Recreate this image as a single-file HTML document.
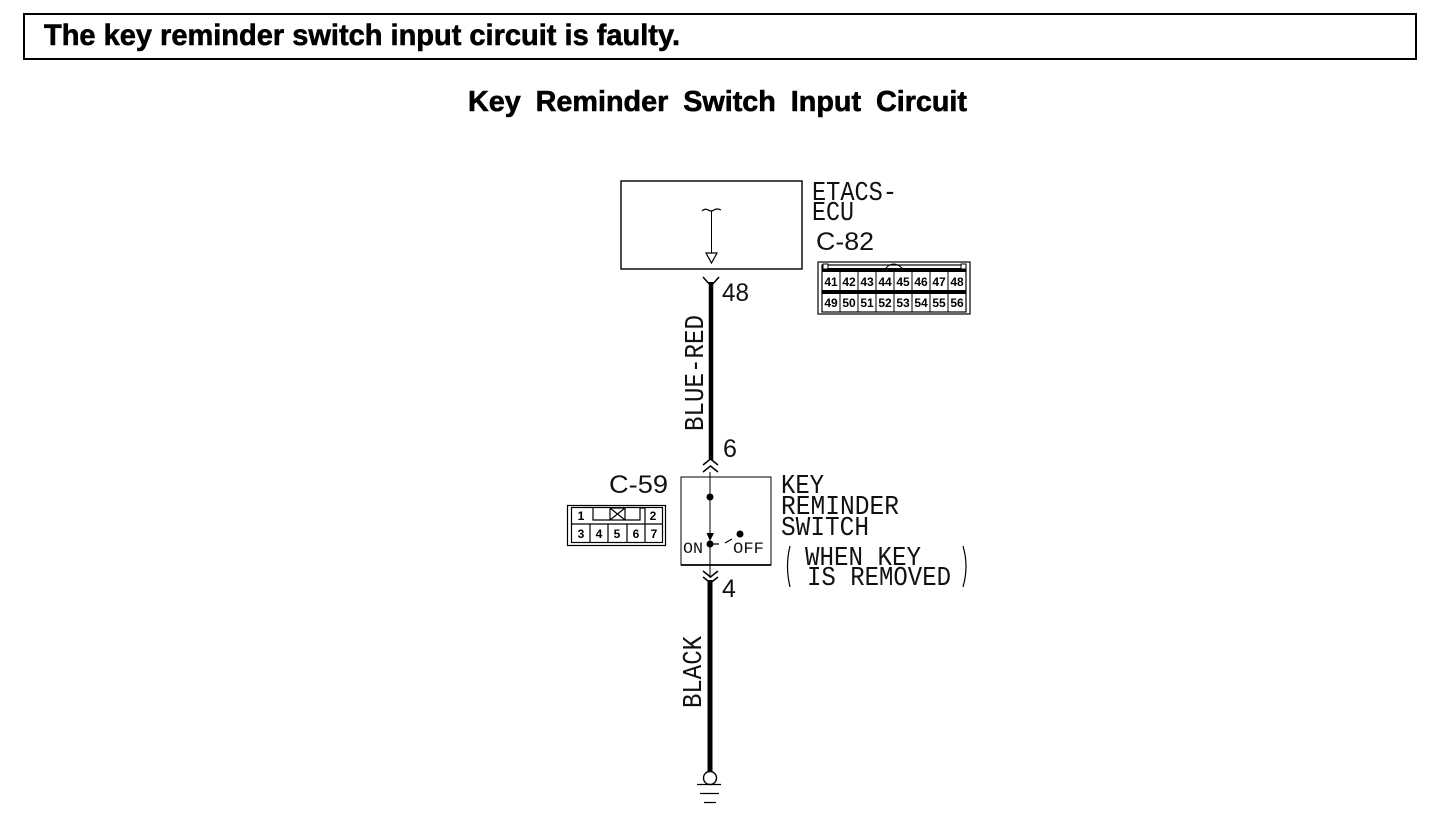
<!DOCTYPE html>
<html>
<head>
<meta charset="utf-8">
<style>
html,body{margin:0;padding:0;background:#fff;width:1456px;height:816px;overflow:hidden}
svg{display:block}
.h{font-family:"Liberation Sans",sans-serif;font-weight:bold;fill:#000;stroke:#000;stroke-width:.6px}
.m{font-family:"Liberation Mono",monospace;fill:#111;font-size:27px}
.n{font-family:"Liberation Sans",sans-serif;fill:#111;font-size:25px}
.c{font-family:"Liberation Sans",sans-serif;font-weight:bold;fill:#000;font-size:12px;text-anchor:middle}
</style>
</head>
<body>
<svg width="1456" height="816" viewBox="0 0 1456 816" xmlns="http://www.w3.org/2000/svg" fill="none" stroke="#000">
<rect x="24" y="14" width="1392" height="45" stroke-width="2"/>
<text class="h" x="44" y="45" font-size="30" textLength="636" lengthAdjust="spacingAndGlyphs">The key reminder switch input circuit is faulty.</text>
<text class="h" x="468" y="111" font-size="29" textLength="499" lengthAdjust="spacingAndGlyphs" word-spacing="7">Key Reminder Switch Input Circuit</text>

<rect x="621" y="181" width="181" height="88" stroke-width="1.4"/>
<path d="M702 211q3-3 6-1t6 0t7 0" stroke-width="1.2"/>
<path d="M711.500 211V253" stroke-width="1"/>
<path d="M706 253H717L711.500 263Z" stroke-width="1.2"/>
<path d="M703 277L711 286L719 277" stroke-width="1.500"/>
<path d="M711 282V460" stroke-width="4.500"/>

<g stroke="none">
<text class="m" x="812" y="200" textLength="85" lengthAdjust="spacingAndGlyphs">ETACS-</text>
<text class="m" x="812" y="220" textLength="42" lengthAdjust="spacingAndGlyphs">ECU</text>
<text class="n" x="816" y="250" textLength="58" lengthAdjust="spacingAndGlyphs">C-82</text>
<text class="n" x="722" y="301" textLength="27" lengthAdjust="spacingAndGlyphs">48</text>
<text class="n" x="723" y="457">6</text>
<text class="n" x="609" y="493" textLength="59" lengthAdjust="spacingAndGlyphs">C-59</text>
<text class="n" x="722" y="597">4</text>
<text class="m" x="781" y="493" textLength="43" lengthAdjust="spacingAndGlyphs">KEY</text>
<text class="m" x="781" y="514" textLength="118" lengthAdjust="spacingAndGlyphs">REMINDER</text>
<text class="m" x="781" y="535" textLength="88" lengthAdjust="spacingAndGlyphs">SWITCH</text>
<text class="m" x="805" y="565" textLength="116" lengthAdjust="spacingAndGlyphs">WHEN KEY</text>
<text class="m" x="807" y="585" textLength="144" lengthAdjust="spacingAndGlyphs">IS REMOVED</text>
<text class="m" transform="translate(703,431) rotate(-90)" x="0" y="0" textLength="116" lengthAdjust="spacingAndGlyphs">BLUE-RED</text>
<text class="m" transform="translate(701,708) rotate(-90)" x="0" y="0" textLength="72" lengthAdjust="spacingAndGlyphs">BLACK</text>
<text x="683" y="553" font-family="Liberation Mono, monospace" font-size="16" fill="#111" textLength="20" lengthAdjust="spacingAndGlyphs">ON</text>
<text x="733" y="553" font-family="Liberation Mono, monospace" font-size="16" fill="#111" textLength="31" lengthAdjust="spacingAndGlyphs">OFF</text>
</g>

<path d="M790 546Q785 566 790 587M963 546Q969 566 963 587" stroke-width="1.200"/>

<!-- C-82 connector -->
<rect x="818" y="262" width="152" height="52" stroke-width="1.200"/>
<rect x="822" y="265" width="144" height="47" stroke-width="1.200"/>
<rect x="822" y="268" width="144" height="4" fill="#000" stroke="none"/>
<rect x="822" y="290" width="144" height="4" fill="#000" stroke="none"/>
<rect x="823" y="264" width="5" height="5" fill="#fff" stroke-width="1"/>
<rect x="961" y="264" width="5" height="5" fill="#fff" stroke-width="1"/>
<path d="M886 268Q893 260 902 268" stroke-width="1"/>
<path d="M840 272V312M858 272V312M876 272V312M894 272V312M912 272V312M930 272V312M948 272V312" stroke-width="1"/>
<g stroke="none">
<text class="c" x="831" y="286">41</text><text class="c" x="849" y="286">42</text><text class="c" x="867" y="286">43</text><text class="c" x="885" y="286">44</text><text class="c" x="903" y="286">45</text><text class="c" x="921" y="286">46</text><text class="c" x="939" y="286">47</text><text class="c" x="957" y="286">48</text>
<text class="c" x="831" y="307">49</text><text class="c" x="849" y="307">50</text><text class="c" x="867" y="307">51</text><text class="c" x="885" y="307">52</text><text class="c" x="903" y="307">53</text><text class="c" x="921" y="307">54</text><text class="c" x="939" y="307">55</text><text class="c" x="957" y="307">56</text>
</g>

<!-- upper chevrons -->
<path d="M703 465L710.500 459L718 465M703 472L710.500 466L718 472" stroke-width="1.500"/>

<!-- switch -->
<rect x="681" y="477" width="90" height="88" stroke-width="1"/>
<path d="M681 565H771" stroke-width="1.800"/>
<path d="M710 472V578" stroke-width="1"/>
<circle cx="710" cy="497" r="3.500" fill="#000" stroke="none"/>
<path d="M706.500 533H714L710 541Z" fill="#000" stroke="none"/>
<circle cx="710" cy="544" r="3.500" fill="#000" stroke="none"/>
<path d="M710 544H719M725 543L732 539" stroke-width="1.200"/>
<circle cx="740" cy="534" r="3.500" fill="#000" stroke="none"/>

<!-- C-59 connector -->
<rect x="567.500" y="505.500" width="98" height="40" stroke-width="1.200"/>
<rect x="571.500" y="507.500" width="91" height="35" stroke-width="1.200"/>
<path d="M572 524H663M590 524V542M608 524V542M627 524V542M645 524V542M593 508V520H610M625 520H640V508H645M645 508V524" stroke-width="1.200"/>
<rect x="610" y="508" width="15" height="12" stroke-width="1.200"/>
<path d="M610 508L625 520M625 508L610 520" stroke-width="1.200"/>
<g stroke="none">
<text class="c" x="581" y="520">1</text><text class="c" x="653" y="520">2</text>
<text class="c" x="581" y="538">3</text><text class="c" x="599" y="538">4</text><text class="c" x="617" y="538">5</text><text class="c" x="636" y="538">6</text><text class="c" x="654" y="538">7</text>
</g>

<!-- lower -->
<path d="M703 571L710.500 577L718 571M703 577L710.500 583L718 577" stroke-width="1.500"/>
<path d="M710 580V771" stroke-width="5"/>
<circle cx="710" cy="778" r="6.500" stroke-width="1.400" fill="#fff"/>
<path d="M697 784.500H721M700 793.500H719M704 802.500H716" stroke-width="1.200"/>
</svg>
</body>
</html>
